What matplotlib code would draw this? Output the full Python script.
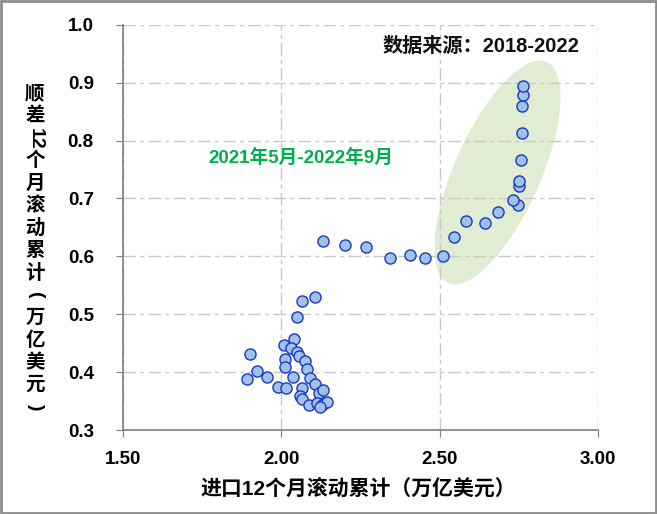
import matplotlib.pyplot as plt
import numpy as np

plt.rcParams['font.family'] = ['Liberation Sans', 'Noto Sans CJK SC']

# imports, 12m rolling (tn USD) vs surplus, 12m rolling (tn USD)
x_import = [2.108, 2.066, 2.049, 2.040, 2.010, 2.032, 2.051, 2.056, 1.900, 2.011,
            2.075, 2.011, 2.081, 1.923, 1.891, 1.954, 2.036, 2.092, 2.107, 1.991,
            2.016, 2.066, 2.119, 2.133, 2.060, 2.066, 2.086, 2.112, 2.128, 2.143,
            2.122,
            2.133, 2.201, 2.268, 2.342, 2.406, 2.455, 2.512,
            2.547, 2.582, 2.645, 2.683, 2.747, 2.731, 2.750, 2.750, 2.757, 2.760,
            2.760, 2.762, 2.762]
y_surplus = [0.530, 0.522, 0.495, 0.457, 0.446, 0.442, 0.435, 0.428, 0.431, 0.422,
             0.419, 0.408, 0.406, 0.402, 0.388, 0.391, 0.391, 0.389, 0.379, 0.375,
             0.373, 0.372, 0.364, 0.369, 0.358, 0.354, 0.344, 0.346, 0.343, 0.348,
             0.340,
             0.627, 0.620, 0.616, 0.597, 0.602, 0.597, 0.601,
             0.633, 0.661, 0.658, 0.677, 0.689, 0.697, 0.721, 0.730, 0.766, 0.813,
             0.860, 0.879, 0.894]

x_ticks = [1.5, 2.0, 2.5, 3.0]
y_ticks = [0.3, 0.4, 0.5, 0.6, 0.7, 0.8, 0.9, 1.0]

fig = plt.figure(figsize=(6.57, 5.14), dpi=100)
ax = fig.add_axes([0.1872, 0.1634, 0.7228, 0.7884])
ax.set_xlim(1.5, 3.0)
ax.set_ylim(0.3, 1.0)

# highlight ellipse (drawn in pixel space so rotation looks right)
sx = ax.transData.transform((1, 0))[0] - ax.transData.transform((0, 0))[0]
sy = ax.transData.transform((0, 1))[1] - ax.transData.transform((0, 0))[1]
t = np.linspace(0, 2 * np.pi, 200)
a, b, ang = 121, 43, np.deg2rad(66)
u, v = a * np.cos(t), b * np.sin(t)
ex = 2.683 + (u * np.cos(ang) - v * np.sin(ang)) / sx
ey = 0.745 + (u * np.sin(ang) + v * np.cos(ang)) / sy
ax.fill(ex, ey, color='#e0edd2', zorder=0.2, lw=0)

ax.scatter(x_import, y_surplus, s=64, c='#9dc3e6', edgecolors='#1f35c4',
           linewidths=1.0, zorder=3)

ax.set_xticks(x_ticks)
ax.set_xticklabels(['%.2f' % v for v in x_ticks])
ax.set_yticks(y_ticks)
ax.set_yticklabels(['%.1f' % v for v in y_ticks])
for lab in ax.get_xticklabels() + ax.get_yticklabels():
    lab.set_fontweight('bold')
    lab.set_fontsize(13.5)
ax.tick_params(direction='out', length=5, color='#7f7f7f')
ax.tick_params(axis='y', pad=16)
ax.tick_params(axis='x', pad=10)

ax.set_axisbelow(True)
ax.grid(True, color='#c9c9c9', lw=1, ls=(0, (9, 3, 3, 3)))
for s in ['top', 'right']:
    ax.spines[s].set_visible(False)
for s in ['left', 'bottom']:
    ax.spines[s].set_color('#7f7f7f')
    ax.spines[s].set_linewidth(1.2)

ax.text(0.962, 0.946, '数据来源：2018-2022', transform=ax.transAxes, ha='right',
        va='center', fontsize=14.5, fontweight='bold', color='#111111')
ax.text(0.374, 0.671, '2021年5月-2022年9月', transform=ax.transAxes, ha='center',
        va='center', fontsize=13.5, fontweight='bold', color='#00b050')

fig.text(0.546, 0.047, '进口12个月滚动累计（万亿美元）', ha='center', va='center',
         fontsize=15, fontweight='bold')

# vertical y label, one glyph per line
ylab = ['顺', '差', '12', '个', '月', '滚', '动', '累', '计', '(', '万', '亿', '美', '元', ')']
y0, step = 94, 22.4
for i, ch in enumerate(ylab):
    rot = 270 if ch in ('12', '(', ')') else 0
    fig.text(35 / 657, 1 - (y0 + i * step) / 514, ch, ha='center', va='center',
             fontsize=14, fontweight='bold', rotation=rot, rotation_mode='anchor')

fig.patches.append(plt.Rectangle((0.002, 0.002), 0.996, 0.996, transform=fig.transFigure,
                                 fill=False, edgecolor='#8c8c8c', lw=2))

fig.savefig('out.png', dpi=100)
